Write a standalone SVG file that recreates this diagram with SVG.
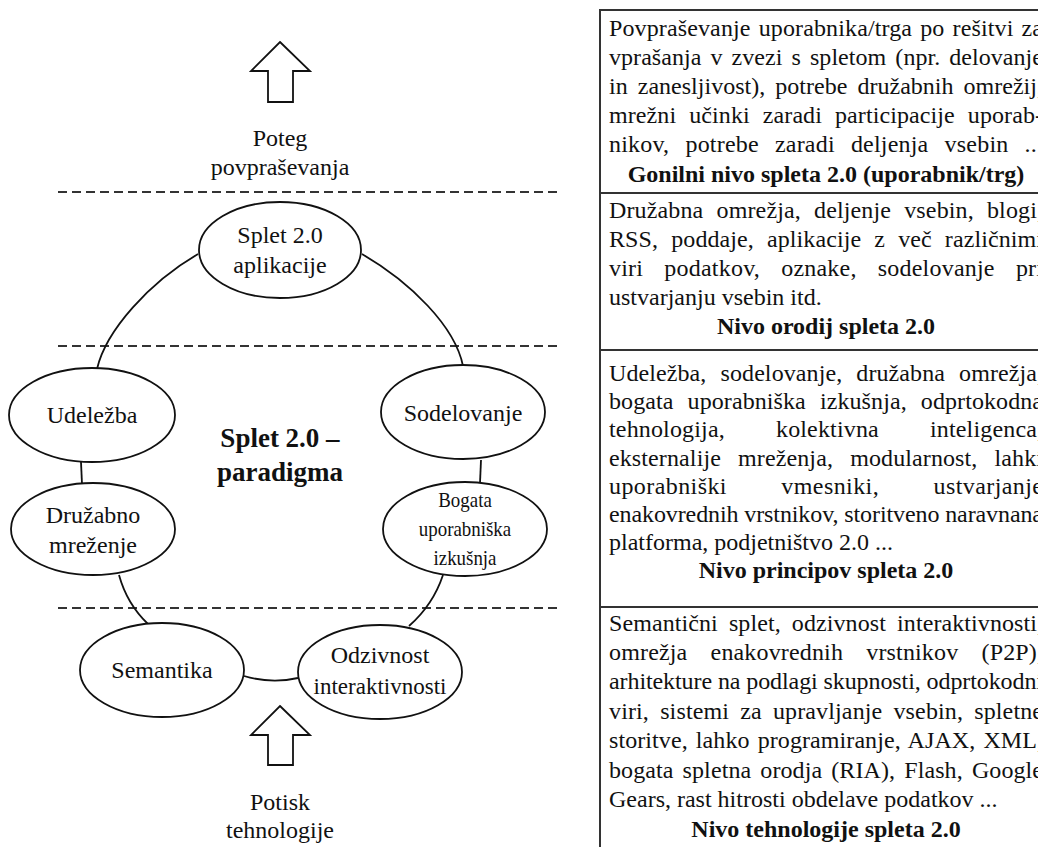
<svg xmlns="http://www.w3.org/2000/svg" width="1038" height="847" viewBox="0 0 1038 847">
  <style>
    .t { font-family: "Liberation Serif", "Times New Roman", serif; font-size: 24px; fill: #111; }
    .b { font-family: "Liberation Serif", "Times New Roman", serif; font-size: 24px; font-weight: bold; fill: #111; text-anchor: middle; }
    .lbl { font-family: "Liberation Serif", "Times New Roman", serif; font-size: 24px; fill: #111; text-anchor: middle; }
    .node { fill: #fff; stroke: #111; stroke-width: 1.8; }
    .edge { fill: none; stroke: #111; stroke-width: 1.8; }
    .dash { fill: none; stroke: #333; stroke-width: 2; stroke-dasharray: 9 5; }
    .frame { fill: none; stroke: #333; stroke-width: 2; }
    .arrow { fill: #fff; stroke: #111; stroke-width: 1.8; stroke-linejoin: miter; }
  </style>
  <rect width="1038" height="847" fill="#fff"/>

  <!-- layer separators -->
  <g id="separators">
    <line class="dash" x1="58" y1="192" x2="559" y2="192"/>
    <line class="dash" x1="58" y1="346" x2="559" y2="346"/>
    <line class="dash" x1="58" y1="608" x2="559" y2="608"/>
  </g>

  <!-- ring connectors -->
  <g id="connectors">
    <path class="edge" d="M198,254 C150,282 106,330 97,369"/>
    <path class="edge" d="M362,254 C410,282 455,326 463,366"/>
    <path class="edge" d="M81,462 L82,484"/>
    <path class="edge" d="M481,460 L480,483"/>
    <path class="edge" d="M119,575 Q127,604 148,624"/>
    <path class="edge" d="M443,575 Q433,605 409,626"/>
    <path class="edge" d="M244,676 Q271,684 298,678"/>
  </g>

  <!-- demand pull -->
  <g id="pull">
    <polygon class="arrow" points="280,42 310,71 293,71 293,102 268,102 268,71 251,71"/>
    <text class="lbl" x="280" y="146">Poteg</text>
    <text class="lbl" x="280" y="175">povpraševanja</text>
  </g>

  <g id="n-apps">
    <ellipse class="node" cx="280" cy="250" rx="81" ry="48"/>
    <text class="lbl" x="280" y="243">Splet 2.0</text>
    <text class="lbl" x="280" y="273">aplikacije</text>
  </g>

  <g id="n-udelezba">
    <ellipse class="node" cx="92" cy="415" rx="83" ry="47"/>
    <text class="lbl" x="92" y="423">Udeležba</text>
  </g>

  <g id="n-sodelovanje">
    <ellipse class="node" cx="463" cy="412" rx="82" ry="47"/>
    <text class="lbl" x="463" y="421">Sodelovanje</text>
  </g>

  <g id="title">
    <text class="b" x="280" y="447" style="font-size:27px">Splet 2.0 –</text>
    <text class="b" x="280" y="481" style="font-size:27px">paradigma</text>
  </g>

  <g id="n-druzabno">
    <ellipse class="node" cx="93" cy="529" rx="82" ry="46"/>
    <text class="lbl" x="93" y="523">Družabno</text>
    <text class="lbl" x="93" y="553">mreženje</text>
  </g>

  <g id="n-bogata">
    <ellipse class="node" cx="465" cy="529" rx="82" ry="47"/>
    <g transform="translate(465,0) scale(0.86,1)">
      <text class="lbl" x="0" y="507" style="font-size:22px">Bogata</text>
      <text class="lbl" x="0" y="536" style="font-size:22px">uporabniška</text>
      <text class="lbl" x="0" y="565" style="font-size:22px">izkušnja</text>
    </g>
  </g>

  <g id="n-semantika">
    <ellipse class="node" cx="162" cy="670" rx="82" ry="47"/>
    <text class="lbl" x="162" y="678">Semantika</text>
  </g>

  <g id="n-odzivnost">
    <ellipse class="node" cx="380" cy="672" rx="82" ry="47"/>
    <text class="lbl" x="380" y="663">Odzivnost</text>
    <text class="lbl" x="380" y="694" style="font-size:23px">interaktivnosti</text>
  </g>

  <!-- technology push -->
  <g id="push">
    <polygon class="arrow" points="280,706 310,735 293,735 293,765 268,765 268,735 251,735"/>
    <text class="lbl" x="280" y="810">Potisk</text>
    <text class="lbl" x="280" y="838">tehnologije</text>
  </g>

  <!-- layered table -->
  <g id="table">
    <path class="frame" d="M1040,10 H600 V847"/>
    <line class="frame" x1="600" y1="193" x2="1040" y2="193"/>
    <line class="frame" x1="600" y1="350" x2="1040" y2="350"/>
    <line class="frame" x1="600" y1="607" x2="1040" y2="607"/>
  </g>

  <g id="layer-driver">
    <text class="t" x="609" y="36" textLength="434" lengthAdjust="spacing" word-spacing="2">Povpraševanje uporabnika/trga po rešitvi za</text>
    <text class="t" x="609" y="65" textLength="434" lengthAdjust="spacing" word-spacing="3">vprašanja v zvezi s spletom (npr. delovanje</text>
    <text class="t" x="609" y="94" textLength="434" lengthAdjust="spacing" word-spacing="4">in zanesljivost), potrebe družabnih omrežij,</text>
    <text class="t" x="609" y="123" textLength="434" lengthAdjust="spacing" word-spacing="7">mrežni učinki zaradi participacije uporab-</text>
    <text class="t" x="609" y="152" textLength="434" lengthAdjust="spacing" word-spacing="10">nikov, potrebe zaradi deljenja vsebin ...</text>
    <text class="b" x="826" y="182">Gonilni nivo spleta 2.0 (uporabnik/trg)</text>
  </g>

  <g id="layer-tools">
    <text class="t" x="609" y="218" textLength="434" lengthAdjust="spacing" word-spacing="7">Družabna omrežja, deljenje vsebin, blogi,</text>
    <text class="t" x="609" y="247" textLength="434" lengthAdjust="spacing" word-spacing="7">RSS, poddaje, aplikacije z več različnimi</text>
    <text class="t" x="609" y="276" textLength="434" lengthAdjust="spacing" word-spacing="15">viri podatkov, oznake, sodelovanje pri</text>
    <text class="t" x="609" y="305">ustvarjanju vsebin itd.</text>
    <text class="b" x="826" y="334">Nivo orodij spleta 2.0</text>
  </g>

  <g id="layer-principles">
    <text class="t" x="609" y="381" textLength="434" lengthAdjust="spacing" word-spacing="8">Udeležba, sodelovanje, družabna omrežja,</text>
    <text class="t" x="609" y="409" textLength="434" lengthAdjust="spacing" word-spacing="8">bogata uporabniška izkušnja, odprtokodna</text>
    <text class="t" x="609" y="437" textLength="434" lengthAdjust="spacing" word-spacing="45">tehnologija, kolektivna inteligenca,</text>
    <text class="t" x="609" y="466" textLength="434" lengthAdjust="spacing" word-spacing="11">eksternalije mreženja, modularnost, lahki</text>
    <text class="t" x="609" y="494" textLength="434" lengthAdjust="spacing" word-spacing="48">uporabniški vmesniki, ustvarjanje</text>
    <text class="t" x="609" y="522" textLength="434" lengthAdjust="spacing">enakovrednih vrstnikov, storitveno naravnana</text>
    <text class="t" x="609" y="550">platforma, podjetništvo 2.0 ...</text>
    <text class="b" x="826" y="578">Nivo principov spleta 2.0</text>
  </g>

  <g id="layer-technology">
    <text class="t" x="609" y="631" textLength="434" lengthAdjust="spacing" word-spacing="5">Semantični splet, odzivnost interaktivnosti,</text>
    <text class="t" x="609" y="660" textLength="434" lengthAdjust="spacing" word-spacing="17">omrežja enakovrednih vrstnikov (P2P),</text>
    <text class="t" x="609" y="689" textLength="434" lengthAdjust="spacing">arhitekture na podlagi skupnosti, odprtokodni</text>
    <text class="t" x="609" y="719" textLength="434" lengthAdjust="spacing" word-spacing="5">viri, sistemi za upravljanje vsebin, spletne</text>
    <text class="t" x="609" y="748" textLength="434" lengthAdjust="spacing" word-spacing="2">storitve, lahko programiranje, AJAX, XML,</text>
    <text class="t" x="609" y="778" textLength="434" lengthAdjust="spacing" word-spacing="3">bogata spletna orodja (RIA), Flash, Google</text>
    <text class="t" x="609" y="807">Gears, rast hitrosti obdelave podatkov ...</text>
    <text class="b" x="826" y="837">Nivo tehnologije spleta 2.0</text>
  </g>
</svg>
